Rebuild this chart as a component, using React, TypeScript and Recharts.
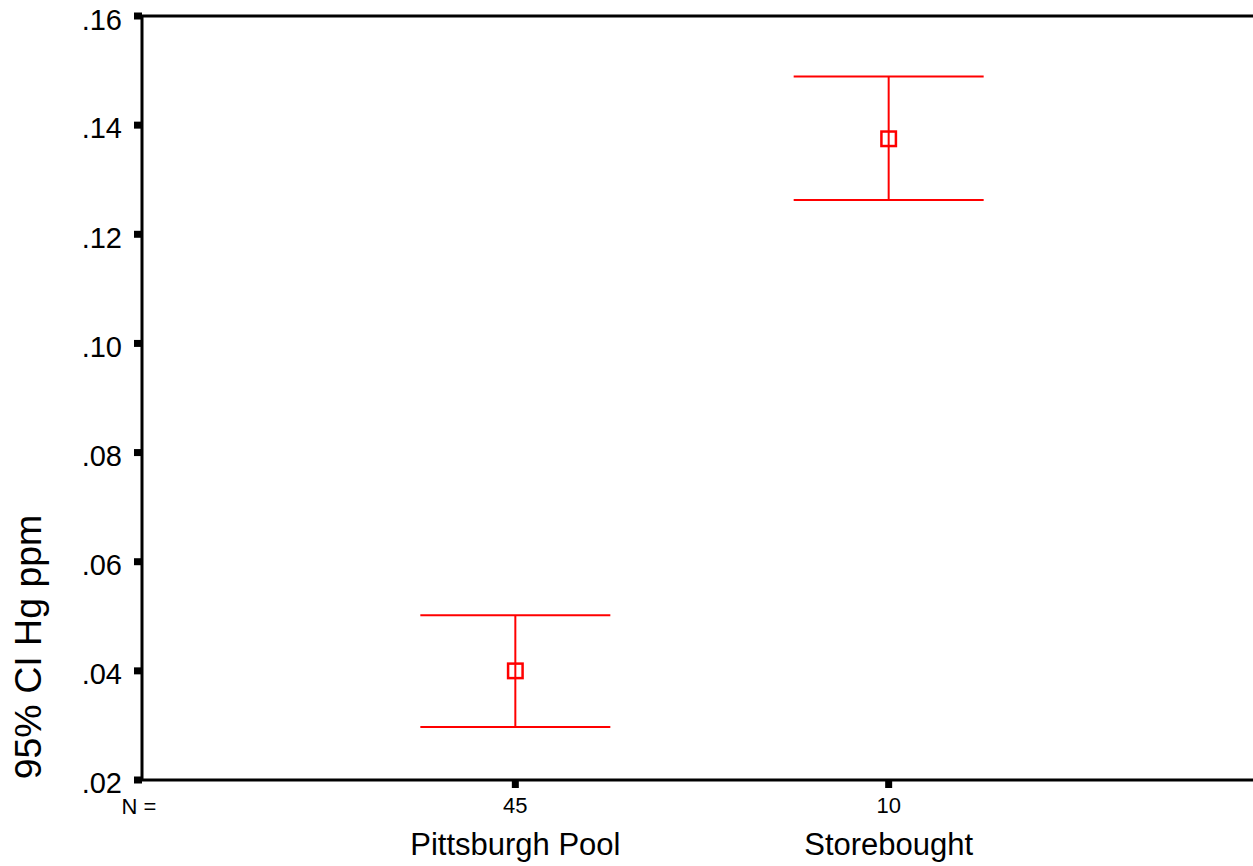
import { ComposedChart, ErrorBar, ReferenceLine, Scatter, XAxis, YAxis } from 'recharts'

const categories = ['Pittsburgh Pool', 'Storebought']
const counts = [45, 10]
const means = [0.04, 0.1375]
const lowerCI = [0.0297, 0.1263]
const upperCI = [0.0502, 0.1489]
const yTicks = [0.02, 0.04, 0.06, 0.08, 0.1, 0.12, 0.14, 0.16]

const FONT = '"Liberation Sans", Arial, sans-serif'
const RED = '#ff0000'

const data = categories.map((name, i) => ({
  pos: i + 1,
  name,
  n: counts[i],
  mean: means[i],
  ci: [means[i] - lowerCI[i], upperCI[i] - means[i]],
}))

function fmtTick(v: number) {
  return v.toFixed(2).replace(/^0/, '')
}

function SquareMarker(props: any) {
  const { cx, cy } = props
  if (cx == null || cy == null) return null
  return (
    <rect x={cx - 7.25} y={cy - 7.25} width={14.5} height={14.5} fill="none" stroke={RED} strokeWidth={2.5} />
  )
}

function CategoryTick(props: any) {
  const { x, y, payload } = props
  const idx = Math.round(payload.value) - 1
  if (idx < 0 || idx >= categories.length) return null
  return (
    <g>
      <text x={x} y={y + 23} textAnchor="middle" fontSize={22} fill="#000" fontFamily={FONT}>
        {counts[idx]}
      </text>
      <text x={x} y={y + 65} textAnchor="middle" fontSize={31} fill="#000" fontFamily={FONT}>
        {categories[idx]}
      </text>
    </g>
  )
}

function NLabel(props: any) {
  const { viewBox } = props
  if (!viewBox) return null
  return (
    <text x={viewBox.x - 3} y={viewBox.y + 34} textAnchor="middle" fontSize={22} fill="#000" fontFamily={FONT}>
      N =
    </text>
  )
}

function YTitle() {
  return (
    <text
      x={41}
      y={647}
      transform="rotate(-90, 41, 647)"
      textAnchor="middle"
      fontSize={37.5}
      fill="#000"
      fontFamily={FONT}
    >
      95% CI Hg ppm
    </text>
  )
}

export default function App() {
  return (
    <div
      style={{
        position: 'fixed',
        left: 0,
        top: 0,
        width: 1253,
        height: 866,
        overflow: 'hidden',
        background: '#fff',
      }}
    >
      <ComposedChart width={1275} height={866} data={data} margin={{ top: 16, right: 13, bottom: 0, left: 0 }}>
        <XAxis
          type="number"
          dataKey="pos"
          domain={[0, 3]}
          ticks={[1, 2]}
          height={86}
          axisLine={{ stroke: '#000', strokeWidth: 3 }}
          tickLine={{ stroke: '#000', strokeWidth: 7 }}
          tickSize={8}
          tick={<CategoryTick />}
          label={<NLabel />}
        />
        <YAxis
          type="number"
          domain={[0.02, 0.16]}
          ticks={yTicks}
          width={142}
          axisLine={{ stroke: '#000', strokeWidth: 3 }}
          tickLine={{ stroke: '#000', strokeWidth: 7 }}
          tickSize={8}
          tickMargin={12}
          tickFormatter={fmtTick}
          tick={{ fontSize: 29, fill: '#000', fontFamily: FONT, dy: 3 }}
          label={<YTitle />}
        />
        <ReferenceLine y={0.16} stroke="#000" strokeWidth={3} ifOverflow="visible" />
        <Scatter dataKey="mean" shape={<SquareMarker />} isAnimationActive={false}>
          <ErrorBar dataKey="ci" direction="y" width={95} stroke={RED} strokeWidth={2} isAnimationActive={false} />
        </Scatter>
      </ComposedChart>
    </div>
  )
}
